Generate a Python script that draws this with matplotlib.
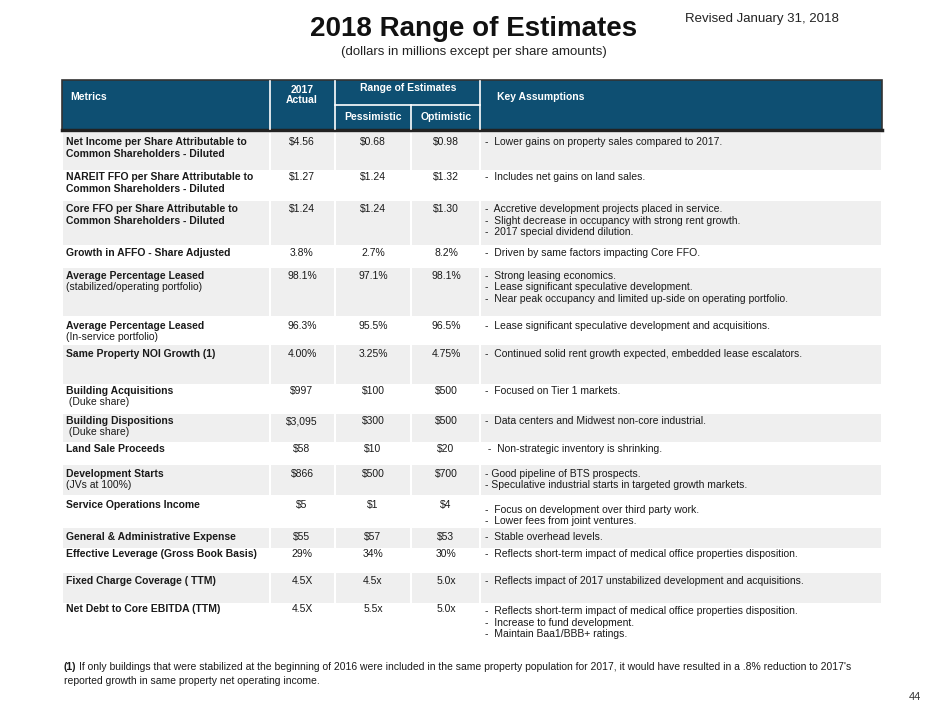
import matplotlib.pyplot as plt
from matplotlib.patches import Rectangle

plt.rcParams['font.family'] = ['Liberation Sans', 'DejaVu Sans']

metrics = [
    ["Net Income per Share Attributable to", "Common Shareholders - Diluted"],
    ["NAREIT FFO per Share Attributable to", "Common Shareholders - Diluted"],
    ["Core FFO per Share Attributable to", "Common Shareholders - Diluted"],
    ["Growth in AFFO - Share Adjusted"],
    ["Average Percentage Leased"],
    ["Average Percentage Leased"],
    ["Same Property NOI Growth (1)"],
    ["Building Acquisitions"],
    ["Building Dispositions"],
    ["Land Sale Proceeds"],
    ["Development Starts"],
    ["Service Operations Income"],
    ["General & Administrative Expense"],
    ["Effective Leverage (Gross Book Basis)"],
    ["Fixed Charge Coverage ( TTM)"],
    ["Net Debt to Core EBITDA (TTM)"],
]
metric_notes = ["", "", "", "", "(stabilized/operating portfolio)", "(In-service portfolio)", "",
                " (Duke share)", " (Duke share)", "", "(JVs at 100%)", "", "", "", "", ""]
actual_2017 = ["$4.56", "$1.27", "$1.24", "3.8%", "98.1%", "96.3%", "4.00%", "$997", "$3,095",
               "$58", "$866", "$5", "$55", "29%", "4.5X", "4.5X"]
pessimistic = ["$0.68", "$1.24", "$1.24", "2.7%", "97.1%", "95.5%", "3.25%", "$100", "$300",
               "$10", "$500", "$1", "$57", "34%", "4.5x", "5.5x"]
optimistic = ["$0.98", "$1.32", "$1.30", "8.2%", "98.1%", "96.5%", "4.75%", "$500", "$500",
              "$20", "$700", "$4", "$53", "30%", "5.0x", "5.0x"]
assumptions = [
    ["-  Lower gains on property sales compared to 2017."],
    ["-  Includes net gains on land sales."],
    ["-  Accretive development projects placed in service.",
     "-  Slight decrease in occupancy with strong rent growth.",
     "-  2017 special dividend dilution."],
    ["-  Driven by same factors impacting Core FFO."],
    ["-  Strong leasing economics.",
     "-  Lease significant speculative development.",
     "-  Near peak occupancy and limited up-side on operating portfolio."],
    ["-  Lease significant speculative development and acquisitions."],
    ["-  Continued solid rent growth expected, embedded lease escalators."],
    ["-  Focused on Tier 1 markets."],
    ["-  Data centers and Midwest non-core industrial."],
    [" -  Non-strategic inventory is shrinking."],
    ["- Good pipeline of BTS prospects.",
     "- Speculative industrial starts in targeted growth markets."],
    ["-  Focus on development over third party work.",
     "-  Lower fees from joint ventures."],
    ["-  Stable overhead levels."],
    ["-  Reflects short-term impact of medical office properties disposition."],
    ["-  Reflects impact of 2017 unstabilized development and acquisitions."],
    ["-  Reflects short-term impact of medical office properties disposition.",
     "-  Increase to fund development.",
     "-  Maintain Baa1/BBB+ ratings."],
]

# layout (pixels, y downward)
row_top = [133, 171, 201, 246, 268, 317, 345, 385, 414, 443, 465, 496, 528, 549, 573, 604]
row_h = [37, 29, 44, 20, 48, 27, 39, 28, 28, 21, 30, 31, 20, 23, 30, 40]
text_y = [142, 177, 209, 253, 276, 326, 354, 391, 421, 449, 474, 505, 537, 554, 581, 609]
assum_y = [142, 177, 209, 253, 276, 326, 354, 391, 421, 449, 474, 510, 537, 554, 581, 611]
col_x = [62, 270, 335, 411, 480, 882]
val_cx = [302, 373, 446]

header_c = '#0E4F72'
gray_c = '#EFEFEF'
txt_c = '#1A1A1A'
fs = 7.5

fig = plt.figure(figsize=(9.4, 7.05), dpi=100)
ax = fig.add_axes([0, 0, 1, 1])
ax.set_xlim(0, 940)
ax.set_ylim(705, 0)
ax.axis('off')

ax.text(474, 29, "2018 Range of Estimates", ha='center', va='center', fontsize=20,
        fontweight='bold', color='#111111')
ax.text(474, 52, "(dollars in millions except per share amounts)", ha='center', va='center',
        fontsize=9.5, color='#222222')
ax.text(762, 19, "Revised January 31, 2018", ha='center', va='center', fontsize=9.5, color='#222222')
ax.text(915, 697, "44", ha='center', va='center', fontsize=8, color='#333333')

# header
ax.add_patch(Rectangle((col_x[0], 80), col_x[-1] - col_x[0], 50, facecolor=header_c,
                       edgecolor='#333333', lw=1.2))
ax.plot([col_x[0], col_x[-1]], [130, 130], color='#222222', lw=2.5)
for x in [270, 335, 480]:
    ax.plot([x, x], [81, 129], color='white', lw=1.2)
ax.plot([411, 411], [105, 129], color='white', lw=1.2)
ax.plot([335, 480], [105, 105], color='white', lw=1.2)
hkw = dict(color='white', fontweight='bold', fontsize=fs, va='center')
ax.text(70, 97, "Metrics", ha='left', **hkw)
ax.text(302, 90, "2017", ha='center', **hkw)
ax.text(302, 100, "Actual", ha='center', **hkw)
ax.text(408, 88, "Range of Estimates", ha='center', **hkw)
ax.text(373, 117, "Pessimistic", ha='center', **hkw)
ax.text(446, 117, "Optimistic", ha='center', **hkw)
ax.text(497, 97, "Key Assumptions", ha='left', **hkw)

# rows
for i in range(len(metrics)):
    if i % 2 == 0:
        for c in range(5):
            ax.add_patch(Rectangle((col_x[c] + 1, row_top[i]), col_x[c + 1] - col_x[c] - 2, row_h[i],
                                   facecolor=gray_c, edgecolor='none'))
    y = text_y[i]
    for k, line in enumerate(metrics[i]):
        ax.text(66, y + 12 * k, line, ha='left', va='center', fontsize=fs, fontweight='bold', color=txt_c)
    if metric_notes[i]:
        ax.text(66, y + 11, metric_notes[i], ha='left', va='center', fontsize=fs, color=txt_c)
    for cx, v in zip(val_cx, [actual_2017[i], pessimistic[i], optimistic[i]]):
        ax.text(cx, y, v, ha='center', va='center', fontsize=fs, color=txt_c)
    for k, line in enumerate(assumptions[i]):
        ax.text(485, assum_y[i] + 11.5 * k, line, ha='left', va='center', fontsize=fs, color=txt_c)

# footnote
ax.text(64, 667, "(1)", ha='left', va='center', fontsize=7.5, fontweight='bold', color=txt_c)
ax.text(79, 667, "If only buildings that were stabilized at the beginning of 2016 were included in the same "
        "property population for 2017, it would have resulted in a .8% reduction to 2017's",
        ha='left', va='center', fontsize=7.5, color=txt_c)
ax.text(64, 681, "reported growth in same property net operating income.", ha='left', va='center',
        fontsize=7.5, color=txt_c)

fig.savefig('out.png', dpi=100)
